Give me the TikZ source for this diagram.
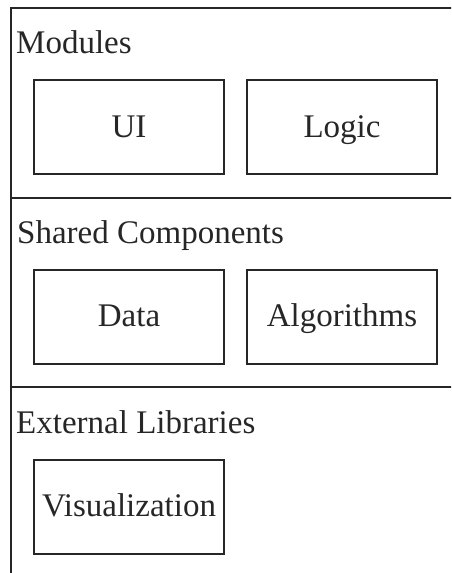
\documentclass[tikz,border=0pt]{standalone}
\usepackage{fontspec}
\setmainfont{Liberation Serif}
\definecolor{ink}{HTML}{262626}
\begin{document}
\begin{tikzpicture}[x=1pt,y=-1pt,
  frameline/.style={draw=ink,line width=2pt},
  modbox/.style={draw=ink,line width=2pt,minimum width=190pt,minimum height=94pt,inner sep=0pt,
    text height=20pt,text depth=0pt,
    font=\fontsize{33}{39}\selectfont,text=ink},
  sectlabel/.style={anchor=base west,inner sep=0pt,font=\fontsize{33}{39}\selectfont,text=ink}]
\useasboundingbox (0,0) rectangle (451,573);
\clip (0,0) rectangle (451,573);
% outer frame and dividers
\coordinate (tl) at (11,8);
\coordinate (tr) at (460,8);
\coordinate (bl) at (11,580);
\coordinate (d1l) at (11,198);
\coordinate (d1r) at (460,198);
\coordinate (d2l) at (11,387);
\coordinate (d2r) at (460,387);
\draw[frameline] (bl) -- (tl) -- (tr);
\draw[frameline] (d1l) -- (d1r);
\draw[frameline] (d2l) -- (d2r);
% section labels
\node[sectlabel] (lmod) at (16,53) {Modules};
\node[sectlabel] (lshared) at (17,243) {Shared Components};
\node[sectlabel] (lext) at (16,433) {External Libraries};
% boxes
\node[modbox] (ui) at (129,127) {UI};
\node[modbox] (logic) at (342,127) {Logic};
\node[modbox] (data) at (129,316.5) {Data};
\node[modbox] (algo) at (342,316.5) {Algorithms};
\node[modbox] (vis) at (129,506.5) {Visualization};
\end{tikzpicture}
\end{document}
